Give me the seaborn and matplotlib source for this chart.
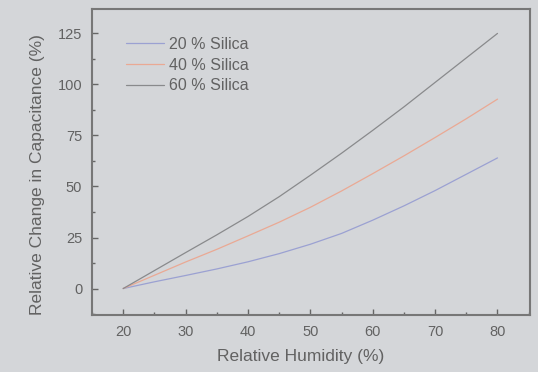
import matplotlib
matplotlib.use("Agg")
import matplotlib.pyplot as plt
import seaborn as sns
import pandas as pd
from matplotlib.ticker import MultipleLocator

humidity = [20, 25, 30, 35, 40, 45, 50, 55, 60, 65, 70, 75, 80]
silica_20 = [0, 3.3, 6.4, 9.6, 13.1, 17.1, 21.7, 27, 33.5, 40.5, 48, 56, 64]
silica_40 = [0, 6.5, 13, 19.2, 25.8, 32.5, 39.8, 47.8, 56.3, 65, 74, 83.2, 92.8]
silica_60 = [0, 8.8, 17.6, 26.3, 35.3, 45, 55.5, 66.3, 77.5, 89, 101, 113, 125]
series_names = ["20 % Silica", "40 % Silica", "60 % Silica"]
xticks = [20, 30, 40, 50, 60, 70, 80]
yticks = [0, 25, 50, 75, 100, 125]

rows = []
for name, vals in zip(series_names, [silica_20, silica_40, silica_60]):
    for h, v in zip(humidity, vals):
        rows.append({"Relative Humidity": h, "Change": v, "Series": name})
df = pd.DataFrame(rows)

bg = "#d4d6d9"
sns.set_theme(style="white")
plt.rcParams["font.family"] = ["Liberation Sans", "DejaVu Sans"]

fig = plt.figure(figsize=(5.38, 3.72), dpi=100, facecolor=bg)
ax = fig.add_axes([0.171, 0.153, 0.814, 0.823])
ax.set_facecolor(bg)

palette = {"20 % Silica": "#9ba1d2", "40 % Silica": "#eaa994", "60 % Silica": "#898a8c"}
sns.lineplot(data=df, x="Relative Humidity", y="Change", hue="Series",
             palette=palette, linewidth=0.9, ax=ax)

ax.set_xlim(15, 85.2)
ax.set_ylim(-13, 137)
ax.set_xticks(xticks)
ax.set_yticks(yticks)
ax.xaxis.set_minor_locator(MultipleLocator(5))
ax.yaxis.set_minor_locator(MultipleLocator(12.5))
txt = "#626262"
ax.tick_params(axis="both", which="major", direction="in", length=4, width=1,
               color="#666666", labelsize=10.5, labelcolor=txt, pad=7)
ax.tick_params(axis="both", which="minor", direction="in", length=2.5, width=1,
               color="#666666")
ax.tick_params(top=False, right=False, which="both")
ax.tick_params(axis="x", which="both", bottom=True)
ax.tick_params(axis="y", which="both", left=True)
for sp in ax.spines.values():
    sp.set_color("#777777")
    sp.set_linewidth(1.5)

ax.set_xlabel("Relative Humidity (%)", fontsize=12.5, color=txt)
ax.set_ylabel("Relative Change in Capacitance (%)", fontsize=12.5, color=txt)
ax.xaxis.set_label_coords(0.477, -0.112)
ax.yaxis.set_label_coords(-0.108, 0.459)

leg = ax.legend(loc="upper left", frameon=False, fontsize=11.5, handlelength=2.4,
                handletextpad=0.3, labelspacing=0.35,
                bbox_to_anchor=(0.045, 0.955))
for t in leg.get_texts():
    t.set_color(txt)

fig.savefig("out.png", dpi=100, facecolor=bg)
